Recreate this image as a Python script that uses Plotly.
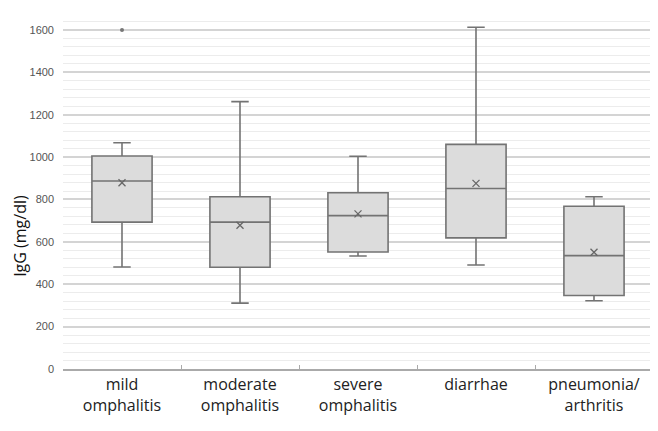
import plotly.graph_objects as go

categories = ["mild<br>omphalitis", "moderate<br>omphalitis", "severe<br>omphalitis",
              "diarrhae", "pneumonia/<br>arthritis"]
lower_whisker = [481, 311, 533, 491, 322]
q1_values = [693, 480, 552, 619, 347]
median_values = [887, 693, 724, 852, 535]
q3_values = [1005, 813, 832, 1060, 768]
upper_whisker = [1068, 1262, 1004, 1613, 813]
mean_values = [879, 678, 732, 876, 551]
outlier_categories = ["mild<br>omphalitis"]
outlier_values = [1600]
y_ticks = [0, 200, 400, 600, 800, 1000, 1200, 1400, 1600]

fig = go.Figure()
fig.add_trace(go.Box(
    x=categories, q1=q1_values, median=median_values, q3=q3_values,
    lowerfence=lower_whisker, upperfence=upper_whisker,
    fillcolor="#dcdcdc", line=dict(color="#737373", width=1.6),
    width=0.51, whiskerwidth=0.29, boxpoints=False, hoverinfo="skip",
    showlegend=False,
))
fig.add_trace(go.Scatter(
    x=categories, y=mean_values, mode="markers",
    marker=dict(symbol="x-thin", size=7, line=dict(color="#666666", width=1.3)),
    showlegend=False,
))
fig.add_trace(go.Scatter(
    x=outlier_categories, y=outlier_values, mode="markers",
    marker=dict(symbol="circle", size=4, color="#777777"),
    showlegend=False,
))

# page body has an 8px offset, margins compensate
fig.update_layout(
    width=658, height=431,
    margin=dict(l=55, r=13, t=5, b=70),
    paper_bgcolor="white", plot_bgcolor="white",
    font=dict(family="Open Sans, sans-serif"),
    xaxis=dict(
        type="category", tickson="boundaries", ticks="inside", ticklen=4,
        tickcolor="#aaaaaa", showline=True, linecolor="#aaaaaa", linewidth=1.5,
        showgrid=False, tickfont=dict(size=16, color="#222222", family="Open Sans, sans-serif"),
        range=[-0.5, 4.5],
    ),
    yaxis=dict(
        range=[0, 1680], tickvals=y_ticks, ticktext=[str(v) for v in y_ticks],
        showgrid=True, gridcolor="#d4d4d4", gridwidth=1.5,
        zeroline=False, showline=False, ticks="",
        tickfont=dict(size=11, color="#555555", family="Liberation Sans, Arial, sans-serif"),
        ticklabelstandoff=8,
        minor=dict(dtick=40, tick0=0, showgrid=True, gridcolor="#ececec", gridwidth=1),
    ),
    annotations=[dict(
        text="IgG (mg/dl)", x=0, xref="paper", xshift=-43, xanchor="center",
        y=0.374, yref="paper", yanchor="middle", textangle=-90, showarrow=False,
        font=dict(size=16, color="#111111", family="Open Sans, sans-serif"),
    )],
)

fig.write_html("out.html")
